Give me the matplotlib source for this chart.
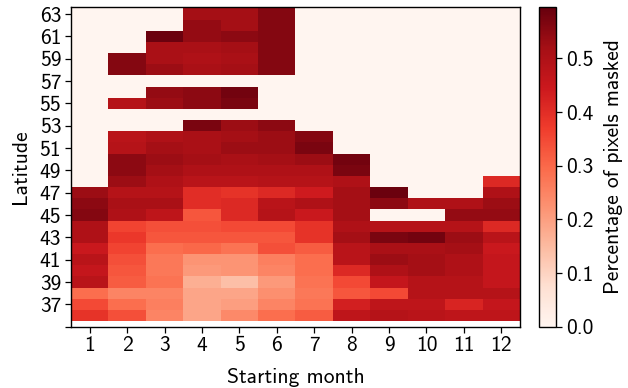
import numpy as np
import matplotlib
matplotlib.use("Agg")
import matplotlib.pyplot as plt

plt.rcParams['font.family'] = ['cmss10', 'DejaVu Sans']
plt.rcParams['axes.unicode_minus'] = False
plt.rcParams['font.size'] = 15.5

# Latitudes (rows, top to bottom) and months (columns)
latitudes = list(range(63, 35, -1))
months = list(range(1, 13))

# Fraction of pixels masked, one list per starting month, latitude 63 -> 36
month_01 = [0, 0, 0, 0, 0, 0, 0, 0, 0, 0, 0, 0, 0, 0, 0, 0,
            0.53, 0.55, 0.56, 0.50, 0.50, 0.45, 0.48, 0.46, 0.48, 0.29, 0.35, 0.39]
month_02 = [0, 0, 0, 0, 0.56, 0.56, 0, 0, 0.49, 0, 0, 0.48, 0.49, 0.55, 0.55, 0.53,
            0.49, 0.51, 0.50, 0.36, 0.38, 0.36, 0.34, 0.33, 0.32, 0.25, 0.29, 0.34]
month_03 = [0, 0, 0.59, 0.51, 0.51, 0.53, 0, 0.54, 0.53, 0, 0, 0.50, 0.52, 0.53, 0.52, 0.50,
            0.49, 0.51, 0.47, 0.34, 0.33, 0.29, 0.27, 0.27, 0.28, 0.25, 0.26, 0.25]
month_04 = [0.52, 0.54, 0.54, 0.51, 0.50, 0.51, 0, 0.55, 0.55, 0, 0.57, 0.51, 0.51, 0.52, 0.50, 0.48,
            0.40, 0.40, 0.33, 0.34, 0.33, 0.30, 0.22, 0.21, 0.17, 0.19, 0.19, 0.19]
month_05 = [0.52, 0.52, 0.55, 0.52, 0.51, 0.52, 0, 0.58, 0.57, 0, 0.53, 0.52, 0.53, 0.51, 0.50, 0.48,
            0.39, 0.41, 0.41, 0.35, 0.33, 0.28, 0.22, 0.22, 0.14, 0.19, 0.20, 0.24]
month_06 = [0.56, 0.56, 0.56, 0.56, 0.56, 0.56, 0, 0, 0, 0, 0.55, 0.53, 0.53, 0.52, 0.50, 0.49,
            0.41, 0.48, 0.49, 0.35, 0.33, 0.34, 0.26, 0.25, 0.21, 0.23, 0.25, 0.29]
month_07 = [0, 0, 0, 0, 0, 0, 0, 0, 0, 0, 0, 0.56, 0.57, 0.53, 0.50, 0.49,
            0.44, 0.50, 0.45, 0.39, 0.39, 0.32, 0.29, 0.29, 0.28, 0.27, 0.28, 0.32]
month_08 = [0, 0, 0, 0, 0, 0, 0, 0, 0, 0, 0, 0, 0, 0.58, 0.57, 0.50,
            0.52, 0.52, 0.52, 0.50, 0.52, 0.48, 0.48, 0.41, 0.35, 0.33, 0.43, 0.47]
month_09 = [0, 0, 0, 0, 0, 0, 0, 0, 0, 0, 0, 0, 0, 0, 0, 0,
            0.59, 0.55, 0, 0.49, 0.57, 0.51, 0.53, 0.50, 0.46, 0.35, 0.47, 0.49]
month_10 = [0, 0, 0, 0, 0, 0, 0, 0, 0, 0, 0, 0, 0, 0, 0, 0,
            0, 0.50, 0, 0.49, 0.58, 0.51, 0.52, 0.52, 0.49, 0.49, 0.47, 0.48]
month_11 = [0, 0, 0, 0, 0, 0, 0, 0, 0, 0, 0, 0, 0, 0, 0, 0,
            0, 0.50, 0.54, 0.49, 0.53, 0.52, 0.50, 0.50, 0.49, 0.49, 0.42, 0.47]
month_12 = [0, 0, 0, 0, 0, 0, 0, 0, 0, 0, 0, 0, 0, 0, 0, 0.41,
            0.50, 0.53, 0.54, 0.41, 0.48, 0.45, 0.46, 0.46, 0.46, 0.49, 0.46, 0.47]

ytick_values = list(range(37, 64, 2))
cbar_ticks = [0.0, 0.1, 0.2, 0.3, 0.4, 0.5]

data = np.column_stack([month_01, month_02, month_03, month_04, month_05, month_06,
                        month_07, month_08, month_09, month_10, month_11, month_12])
lat_arr = np.array(latitudes, dtype=float)
mon_arr = np.array(months, dtype=float)

fig = plt.figure(figsize=(6.28, 3.88), dpi=100)
ax = fig.add_axes([0.113, 0.158, 0.715, 0.823])
cax = fig.add_axes([0.859, 0.158, 0.0266, 0.823])

xedges = np.concatenate([mon_arr - 0.5, [mon_arr[-1] + 0.5]])
yedges = np.concatenate([lat_arr + 0.5, [lat_arr[-1] - 0.5]])
mesh = ax.pcolormesh(xedges, yedges, data, cmap='Reds', vmin=0, vmax=0.595,
                     shading='flat')

ax.set_xlim(0.5, 12.5)
ax.set_ylim(35.0, 63.6)
ax.set_xticks(months)
ax.set_xticklabels([str(m) for m in months])
ax.set_yticks([35] + ytick_values)
ax.set_yticklabels([''] + [str(v) for v in ytick_values])
ax.set_xlabel('Starting month', labelpad=9)
ax.set_ylabel('Latitude', labelpad=7)
ax.tick_params(length=4, width=0.9, pad=3)
for s in ax.spines.values():
    s.set_linewidth(1.0)

cb = fig.colorbar(mesh, cax=cax)
cb.set_ticks(cbar_ticks)
cb.ax.tick_params(length=4, width=0.9, pad=3)
cb.set_label('Percentage of pixels masked', labelpad=8)
cb.outline.set_linewidth(1.0)

fig.savefig('out.png', dpi=100)
